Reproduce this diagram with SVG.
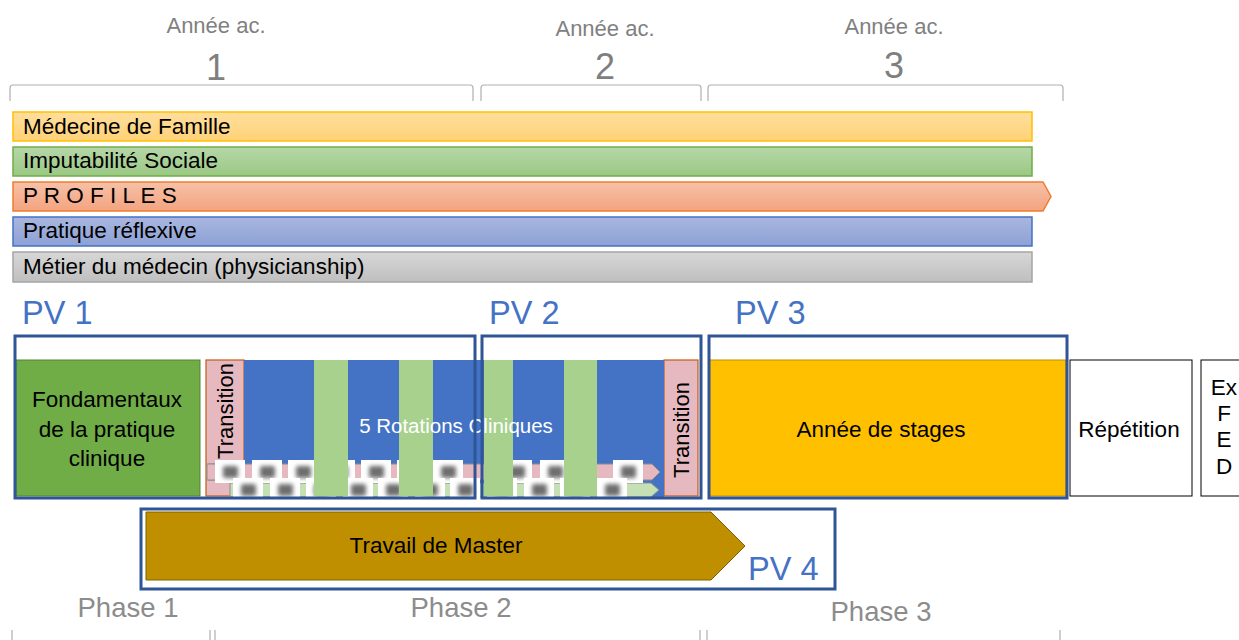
<svg xmlns="http://www.w3.org/2000/svg" width="1239" height="640" viewBox="0 0 1239 640">
  <defs>
    <linearGradient id="gYellow" x1="0" y1="0" x2="0" y2="1">
      <stop offset="0" stop-color="#ffdf9e"/><stop offset="1" stop-color="#ffd176"/>
    </linearGradient>
    <linearGradient id="gGreen" x1="0" y1="0" x2="0" y2="1">
      <stop offset="0" stop-color="#b6d7a8"/><stop offset="1" stop-color="#9bc884"/>
    </linearGradient>
    <linearGradient id="gOrange" x1="0" y1="0" x2="0" y2="1">
      <stop offset="0" stop-color="#f6c1a8"/><stop offset="1" stop-color="#f4a37f"/>
    </linearGradient>
    <linearGradient id="gBlue" x1="0" y1="0" x2="0" y2="1">
      <stop offset="0" stop-color="#a9b7e0"/><stop offset="1" stop-color="#8da1d5"/>
    </linearGradient>
    <linearGradient id="gGrey" x1="0" y1="0" x2="0" y2="1">
      <stop offset="0" stop-color="#d7d7d7"/><stop offset="1" stop-color="#bfbfbf"/>
    </linearGradient>
    <filter id="soft" x="-60%" y="-60%" width="220%" height="220%">
      <feGaussianBlur stdDeviation="2.3"/>
    </filter>
    <symbol id="icon" overflow="visible">
      <rect x="0" y="0" width="30" height="23" fill="#ffffff"/>
      <rect x="8" y="6" width="15" height="12" rx="2" fill="#6e6e6e" filter="url(#soft)"/>
    </symbol>
  </defs>
  <style>
    text { font-family: "Liberation Sans", Arial, sans-serif; }
    .head { fill: #808080; font-size: 22px; text-anchor: middle; }
    .num { fill: #7f7f7f; font-size: 36px; text-anchor: middle; }
    .phase { fill: #8c8c8c; font-size: 27.5px; text-anchor: middle; }
    .brk { fill: none; stroke: #b0b0b0; stroke-width: 1.2; }
    .bar { font-size: 22.5px; fill: #000000; }
    .pv { fill: #4472c4; font-size: 32.5px; }
    .frame { fill: none; stroke: #2f5597; stroke-width: 3; }
    .lbl { font-size: 22.5px; fill: #000000; text-anchor: middle; }
    .trans { fill: #e6b9c0; stroke: #c55a11; stroke-width: 1.2; }
    .gbar { fill: #a9d18e; }
  </style>

  <!-- academic year headers -->
  <g id="year-1">
    <text class="head" x="216" y="33">Année ac.</text>
    <text class="num" x="216" y="80">1</text>
    <path class="brk" d="M10,101 V88 Q10,85 13,85 H470 Q473,85 473,88 V101"/>
  </g>
  <g id="year-2">
    <text class="head" x="605" y="36">Année ac.</text>
    <text class="num" x="605" y="79">2</text>
    <path class="brk" d="M481,101 V88 Q481,85 484,85 H698 Q701,85 701,88 V101"/>
  </g>
  <g id="year-3">
    <text class="head" x="894" y="34">Année ac.</text>
    <text class="num" x="894" y="78">3</text>
    <path class="brk" d="M708,101 V88 Q708,85 711,85 H1060 Q1063,85 1063,88 V101"/>
  </g>

  <!-- transversal themes -->
  <g id="medecine-famille">
    <rect x="13" y="112" width="1019" height="29" fill="url(#gYellow)" stroke="#ffc000" stroke-width="1.5"/>
    <text class="bar" x="23" y="134">Médecine de Famille</text>
  </g>
  <g id="imputabilite-sociale">
    <rect x="13" y="147" width="1019" height="29" fill="url(#gGreen)" stroke="#70ad47" stroke-width="1.5"/>
    <text class="bar" x="23" y="168">Imputabilité Sociale</text>
  </g>
  <g id="profiles">
    <path d="M13,182 H1043 L1051,196.5 L1043,211 H13 Z" fill="url(#gOrange)" stroke="#ed7d31" stroke-width="1.5"/>
    <text class="bar" x="23" y="203" font-size="19.5">P R O F I L E S</text>
  </g>
  <g id="pratique-reflexive">
    <rect x="13" y="217" width="1019" height="29" fill="url(#gBlue)" stroke="#4472c4" stroke-width="1.5"/>
    <text class="bar" x="23" y="238">Pratique réflexive</text>
  </g>
  <g id="metier-medecin">
    <rect x="13" y="252" width="1019" height="30" fill="url(#gGrey)" stroke="#a5a5a5" stroke-width="1.5"/>
    <text class="bar" x="23" y="274">Métier du médecin (physicianship)</text>
  </g>

  <!-- curriculum blocks -->
  <g id="fondamentaux">
    <rect x="16" y="360" width="184" height="136" fill="#70ad47" stroke="#548235" stroke-width="1"/>
    <text class="lbl" x="107" y="407">Fondamentaux</text>
    <text class="lbl" x="107" y="437">de la pratique</text>
    <text class="lbl" x="107" y="466">clinique</text>
  </g>

  <g id="transition-1">
    <rect class="trans" x="206" y="360" width="38" height="136"/>
    <text transform="translate(233,411) rotate(-90)" font-size="22" text-anchor="middle">Transition</text>
  </g>

  <g id="transition-2">
    <rect class="trans" x="664" y="360" width="34" height="136"/>
    <text transform="translate(689,430) rotate(-90)" font-size="22" text-anchor="middle">Transition</text>
  </g>

  <g id="rotations">
    <rect x="244" y="360" width="420" height="137" fill="#4472c4"/>
    <!-- rotation timelines -->
    <path d="M208,464 H652 L660,472 L652,480 H208 Z" fill="#e6b9c0" stroke="#8c8c8c" stroke-width="1"/>
    <rect x="207" y="464" width="9" height="16" fill="#e6b9c0" stroke="#8c8c8c" stroke-width="1"/>
    <path d="M230,483 H651 L659,490 L651,497 H230 Z" fill="#c5e0b4" stroke="#8c8c8c" stroke-width="1"/>
    <g id="icons-row-1">
      <use href="#icon" x="215" y="460"/>
      <use href="#icon" x="252" y="460"/>
      <use href="#icon" x="288" y="460"/>
      <use href="#icon" x="325" y="460"/>
      <use href="#icon" x="361" y="460"/>
      <use href="#icon" x="397" y="460"/>
      <use href="#icon" x="433" y="460"/>
      <use href="#icon" x="502" y="460"/>
      <use href="#icon" x="540" y="460"/>
      <use href="#icon" x="613" y="460"/>
    </g>
    <g id="icons-row-2">
      <use href="#icon" x="233" y="478"/>
      <use href="#icon" x="270" y="478"/>
      <use href="#icon" x="306" y="478"/>
      <use href="#icon" x="343" y="478"/>
      <use href="#icon" x="378" y="478"/>
      <use href="#icon" x="415" y="478"/>
      <use href="#icon" x="450" y="478"/>
      <use href="#icon" x="487" y="478"/>
      <use href="#icon" x="524" y="478"/>
      <use href="#icon" x="560" y="478"/>
      <use href="#icon" x="597" y="478"/>
    </g>
    <rect class="gbar" x="314" y="360" width="34" height="136"/>
    <rect class="gbar" x="399" y="360" width="34" height="136"/>
    <rect class="gbar" x="484" y="360" width="29" height="136"/>
    <rect class="gbar" x="564" y="360" width="33" height="136"/>
    <text x="456" y="433" font-size="20.5" fill="#ffffff" text-anchor="middle">5 Rotations Cliniques</text>
  </g>

  <g id="annee-stages">
    <rect x="709" y="360" width="357" height="136" fill="#ffc000" stroke="#bf9000" stroke-width="1"/>
    <text class="lbl" x="881" y="437" font-size="22">Année de stages</text>
  </g>

  <g id="repetition">
    <rect x="1070" y="360" width="122" height="136" fill="#ffffff" stroke="#000000" stroke-width="1"/>
    <text class="lbl" x="1129" y="437" font-size="23">Répétition</text>
  </g>

  <g id="examen-fed">
    <rect x="1201" y="360" width="45" height="136" fill="#ffffff" stroke="#000000" stroke-width="1"/>
    <text class="lbl" x="1224" y="395" font-size="17">Ex</text>
    <text class="lbl" x="1224" y="421" font-size="17">F</text>
    <text class="lbl" x="1224" y="447" font-size="17">E</text>
    <text class="lbl" x="1224" y="474" font-size="17">D</text>
  </g>

  <g id="travail-master">
    <path d="M146,512 H711 L745,546 L711,580 H146 Z" fill="#bf8f00" stroke="#7f6000" stroke-width="1"/>
    <text class="lbl" x="436" y="553" font-size="22">Travail de Master</text>
  </g>

  <!-- validation periods -->
  <g id="pv-1">
    <rect class="frame" x="15" y="336" width="460" height="162"/>
    <text class="pv" x="22" y="324">PV 1</text>
  </g>
  <g id="pv-2">
    <rect class="frame" x="482" y="336" width="219" height="162"/>
    <text class="pv" x="489" y="324">PV 2</text>
  </g>
  <g id="pv-3">
    <rect class="frame" x="709" y="336" width="358" height="162"/>
    <text class="pv" x="735" y="324">PV 3</text>
  </g>
  <g id="pv-4">
    <rect class="frame" x="141" y="509" width="694" height="80"/>
    <text class="pv" x="748" y="580">PV 4</text>
  </g>

  <!-- phases -->
  <g id="phase-1">
    <text class="phase" x="128" y="617">Phase 1</text>
    <path class="brk" d="M12,630 V646 H210 V630"/>
  </g>
  <g id="phase-2">
    <text class="phase" x="461" y="617">Phase 2</text>
    <path class="brk" d="M215,630 V646 H700 V630"/>
  </g>
  <g id="phase-3">
    <text class="phase" x="881" y="621">Phase 3</text>
    <path class="brk" d="M707,630 V646 H1060 V630"/>
  </g>
</svg>
